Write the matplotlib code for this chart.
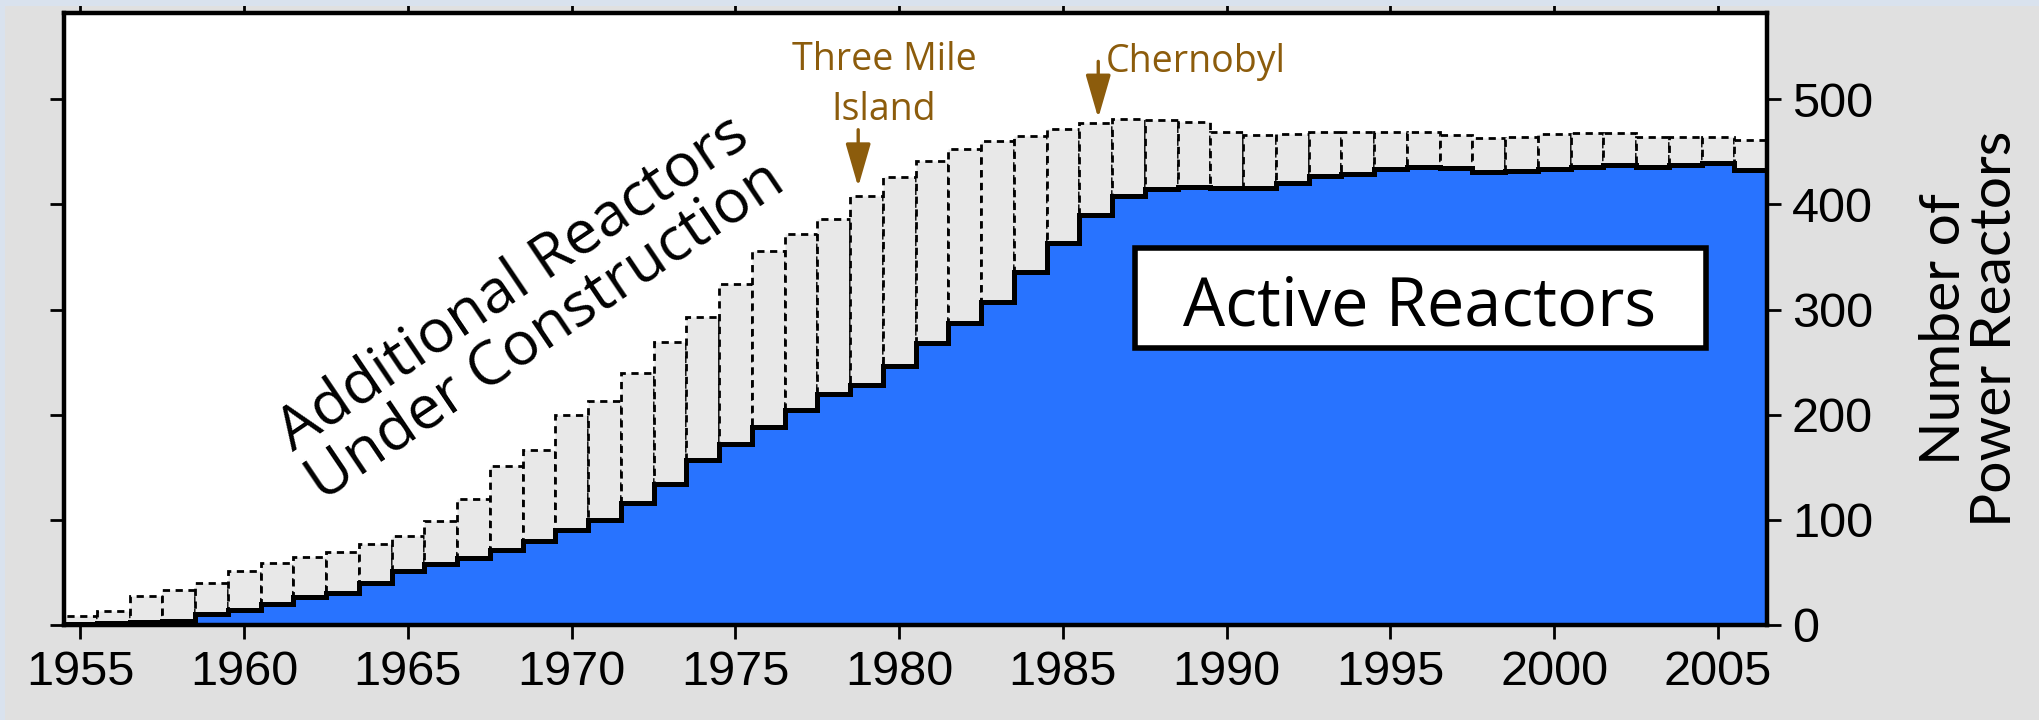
import numpy as np
import matplotlib
matplotlib.use("Agg")
import matplotlib.pyplot as plt
from matplotlib.patches import Rectangle

# ---------------- data ----------------
years = list(range(1955, 2007))
active = [1, 2, 3, 4, 10, 14, 20, 27, 30, 40,
          51, 58, 64, 71, 80, 90, 100, 116, 134, 157,
          172, 188, 204, 220, 228, 246, 268, 287, 307, 336,
          363, 390, 408, 415, 417, 416, 416, 420, 427, 429,
          434, 436, 435, 431, 432, 434, 436, 437, 436, 437,
          439, 433]
under_construction = [8, 11, 25, 29, 30, 37, 39, 38, 39, 37,
                      34, 41, 56, 80, 86, 110, 113, 124, 135, 136,
                      152, 168, 168, 166, 180, 180, 173, 166, 153, 129,
                      109, 87, 73, 65, 61, 53, 50, 47, 42, 40,
                      35, 33, 31, 32, 32, 33, 32, 31, 28, 27,
                      25, 28]
x_ticks = [1955, 1960, 1965, 1970, 1975, 1980, 1985, 1990, 1995, 2000, 2005]
y_ticks = [0, 100, 200, 300, 400, 500]

BLUE = "#2873ff"
GRAY = "#e8e8e8"
BROWN = "#8c5c0c"
BG = "#e0e0e0"

plt.rcParams["font.family"] = ["Liberation Sans", "DejaVu Sans"]

W, H = 2039, 720
fig = plt.figure(figsize=(W / 100, H / 100), dpi=100, facecolor=BG)
fig.patches.append(Rectangle((0, 1 - 6 / H), 1, 6 / H, transform=fig.transFigure,
                             facecolor="#d9e2ee", edgecolor="none", zorder=0))
fig.patches.append(Rectangle((0, 0), 5 / W, 1, transform=fig.transFigure,
                             facecolor="#d9e2ee", edgecolor="none", zorder=0))

ax = fig.add_axes([64 / W, 95 / H, 1703 / W, 612 / H])
ax.set_facecolor("white")

yrs = np.array(years)
act = np.array(active)
uc = np.array(under_construction)
edges = np.append(yrs - 0.5, yrs[-1] + 0.5)

ax.stairs(act, edges, fill=True, color=BLUE, baseline=0, zorder=2)
ax.bar(yrs, uc, bottom=act, width=1.0, facecolor=GRAY, edgecolor="black",
       linestyle=(0, (2.6, 2.0)), linewidth=2.0, zorder=3)
ax.stairs(act, edges, baseline=None, color="black", linewidth=3.6, zorder=4)

ax.set_xlim(1954.5, 2006.5)
ax.set_ylim(0, 582)
ax.set_xticks(x_ticks)
ax.set_yticks(y_ticks)
ax.tick_params(axis="x", direction="out", length=10, width=2, top=True, bottom=True,
               labeltop=False, labelbottom=True, labelsize=35, pad=8)
ax.tick_params(axis="y", direction="out", length=10, width=2, left=True, right=True,
               labelleft=False, labelright=True, labelsize=35, pad=8)
for s in ax.spines.values():
    s.set_linewidth(3.2)
    s.set_color("black")
    s.set_zorder(10)

# right axis label
fig.text(1970 / W, 1 - 329 / H, "Number of\nPower Reactors", rotation=90,
         ha="center", va="center", multialignment="center",
         fontsize=41, family="Lato", linespacing=1.0)

# diagonal label
ax.text(1968.7, 302, "Additional Reactors\nUnder Construction", rotation=34,
        rotation_mode="anchor", ha="center", va="center", multialignment="center",
        fontsize=44, family="Open Sans", linespacing=0.95, zorder=6)

# Active Reactors box
ax.add_patch(Rectangle((1987.2, 263.3), 17.43, 95, facecolor="white",
                       edgecolor="black", linewidth=4, zorder=6))
ax.text(1995.9, 285, "Active Reactors", ha="center", va="baseline",
        fontsize=48, family="Open Sans", zorder=7)

# event annotations
arrow_kw = dict(arrowstyle="-|>,head_length=1.9,head_width=0.55", color=BROWN,
                lw=2.4, shrinkA=0, shrinkB=0, mutation_scale=14)
ax.annotate("", xy=(1978.75, 416.6), xytext=(1978.75, 471), arrowprops=arrow_kw, zorder=7)
ax.annotate("", xy=(1986.08, 482), xytext=(1986.08, 536), arrowprops=arrow_kw, zorder=7)
ax.text(1979.54, 527.6, "Three Mile", ha="center", va="baseline", color=BROWN,
        fontsize=27, family="Open Sans", zorder=7)
ax.text(1979.54, 480, "Island", ha="center", va="baseline", color=BROWN,
        fontsize=27, family="Open Sans", zorder=7)
ax.text(1986.3, 525.7, "Chernobyl", ha="left", va="baseline", color=BROWN,
        fontsize=27, family="Open Sans", zorder=7)

fig.savefig("out.png", dpi=100, facecolor=BG)
